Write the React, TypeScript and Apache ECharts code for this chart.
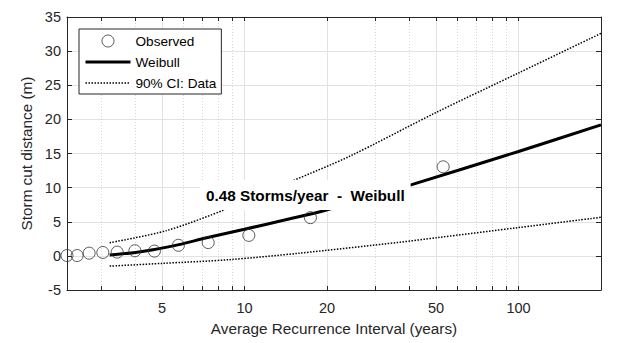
import React, { useEffect, useRef } from 'react';
import * as echarts from 'echarts';

// Observed storm cuts
const observedARI = [2.25, 2.45, 2.71, 3.04, 3.43, 3.98, 4.69, 5.74, 7.37, 10.37, 17.4, 53.1];
const observedCut = [0.05, 0.05, 0.4, 0.5, 0.55, 0.75, 0.7, 1.55, 1.95, 3.0, 5.6, 13.05];

// Weibull fit
const weibullARI = [3.22, 4.0, 4.64, 5.76, 7.27, 10, 14, 19.9, 40.5, 100, 200];
const weibullCut = [0.13, 0.5, 0.9, 1.65, 2.65, 3.9, 5.25, 6.72, 10.4, 15.3, 19.2];

// 90% confidence interval
const ciUpperARI = [3.22, 5.19, 8.59, 15.0, 24.2, 50, 100, 200];
const ciUpperCut = [1.93, 3.7, 6.87, 11.0, 14.6, 21.0, 26.8, 32.6];
const ciLowerARI = [3.22, 5, 8.84, 15.9, 36.9, 50, 100, 200];
const ciLowerCut = [-1.5, -1.1, -0.55, 0.4, 2.0, 2.65, 4.15, 5.65];

// Axes
const xMajorTicks = [5, 10, 20, 50, 100];
const xMinorTicks = [3, 4, 6, 7, 8, 9, 30, 40, 60, 70, 80, 90];
const xRange = [2.25, 200];
const yRange = [-5, 35];
const yStep = 5;

const annotation = '0.48 Storms/year  -  Weibull';

const lg = (v: number) => Math.log10(v);
const pairs = (xs: number[], ys: number[]) => xs.map((x, i) => [lg(x), ys[i]]);

const FONT = '"Liberation Sans", Arial, Helvetica, sans-serif';
const AX = '#262626';

export default function App() {
  const ref = useRef<HTMLDivElement>(null);
  useEffect(() => {
    if (!ref.current) return;
    const chart = echarts.init(ref.current, null, { renderer: 'svg' });
    const allTicks = [...xMinorTicks, ...xMajorTicks].sort((a, b) => a - b).map(lg);
    const xBase = {
      type: 'value' as const,
      min: lg(xRange[0]),
      max: lg(xRange[1]),
    };
    const ciStyle = { color: '#000', width: 1.5, type: 'dotted' as const };
    chart.setOption({
      animation: false,
      backgroundColor: '#fff',
      textStyle: { fontFamily: FONT },
      grid: { left: 67, right: 18, top: 17, bottom: 53, containLabel: false },
      legend: {
        orient: 'vertical',
        left: 79,
        top: 29,
        data: [
          { name: 'Observed', itemStyle: { borderWidth: 1, borderColor: '#333', color: 'transparent' } },
          { name: 'Weibull', lineStyle: { width: 3, color: '#000' } },
          { name: '90% CI: Data', lineStyle: { width: 1.5, color: '#000', type: 'dotted' } },
        ],
        itemWidth: 45,
        itemHeight: 12,
        itemGap: 7,
        padding: [5, 5, 4, 5],
        borderColor: AX,
        borderWidth: 1,
        borderRadius: 0,
        backgroundColor: '#fff',
        textStyle: { fontSize: 13.6, color: '#000', fontFamily: FONT },
      },
      xAxis: [
        {
          ...xBase,
          position: 'bottom',
          name: 'Average Recurrence Interval (years)',
          nameLocation: 'middle',
          nameGap: 31,
          nameTextStyle: { fontSize: 15.3, color: AX, fontFamily: FONT },
          axisLine: { show: true, onZero: false, lineStyle: { color: AX, width: 1 } },
          axisTick: { show: true, inside: true, length: 4, customValues: allTicks, lineStyle: { color: AX } },
          axisLabel: {
            customValues: xMajorTicks.map(lg),
            formatter: (v: number) => String(Math.round(Math.pow(10, v))),
            margin: 10,
            fontSize: 14.5,
            color: AX,
            fontFamily: FONT,
          },
          splitLine: { show: false },
        },
        {
          ...xBase,
          position: 'top',
          axisLine: { show: true, onZero: false, lineStyle: { color: AX, width: 1 } },
          axisTick: { show: true, inside: true, length: 4, customValues: allTicks, lineStyle: { color: AX } },
          axisLabel: { show: false },
          splitLine: { show: false },
        },
        {
          ...xBase,
          position: 'bottom',
          axisLine: { show: false },
          axisTick: { show: false, customValues: xMajorTicks.map(lg) },
          axisLabel: { show: false, customValues: xMajorTicks.map(lg) },
          splitLine: { show: true, lineStyle: { color: '#e2e2e2', width: 1 } },
        },
        {
          ...xBase,
          position: 'bottom',
          axisLine: { show: false },
          axisTick: { show: false, customValues: xMinorTicks.map(lg) },
          axisLabel: { show: false, customValues: xMinorTicks.map(lg) },
          splitLine: { show: true, lineStyle: { color: '#d6d6d6', width: 1, type: [1, 2] } },
        },
      ],
      yAxis: [
        {
          type: 'value',
          position: 'left',
          min: yRange[0],
          max: yRange[1],
          interval: yStep,
          name: 'Storm cut distance (m)',
          nameLocation: 'middle',
          nameGap: 30,
          nameTextStyle: { fontSize: 15.3, color: AX, fontFamily: FONT },
          axisLine: { show: true, onZero: false, lineStyle: { color: AX, width: 1 } },
          axisTick: { show: true, inside: true, length: 5, lineStyle: { color: AX } },
          axisLabel: { margin: 6, fontSize: 14.5, color: AX, fontFamily: FONT },
          splitLine: { show: true, lineStyle: { color: '#e2e2e2', width: 1 } },
        },
        {
          type: 'value',
          position: 'right',
          min: yRange[0],
          max: yRange[1],
          interval: yStep,
          axisLine: { show: true, onZero: false, lineStyle: { color: AX, width: 1 } },
          axisTick: { show: true, inside: true, length: 5, lineStyle: { color: AX } },
          axisLabel: { show: false },
          splitLine: { show: false },
        },
      ],
      graphic: [
        {
          type: 'text',
          x: 200,
          y: 195,
          z: 100,
          style: {
            text: annotation,
            font: `bold 15.3px ${FONT}`,
            lineHeight: 18,
            fill: '#000',
            backgroundColor: '#fff',
            padding: [6, 6, 6, 6],
            verticalAlign: 'middle',
            align: 'left',
          },
        },
      ],
      series: [
        {
          name: '90% CI: Data',
          type: 'line',
          data: pairs(ciLowerARI, ciLowerCut),
          symbol: 'none',
          smooth: 0.3,
          lineStyle: ciStyle,
          itemStyle: { color: 'transparent' },
          z: 3,
        },
        {
          name: '90% CI: Data',
          type: 'line',
          data: pairs(ciUpperARI, ciUpperCut),
          symbol: 'none',
          smooth: 0.3,
          lineStyle: ciStyle,
          itemStyle: { color: 'transparent' },
          z: 3,
        },
        {
          name: 'Weibull',
          type: 'line',
          data: pairs(weibullARI, weibullCut),
          symbol: 'none',
          smooth: 0.3,
          lineStyle: { color: '#000', width: 3 },
          itemStyle: { color: 'transparent' },
          z: 4,
        },
        {
          name: 'Observed',
          type: 'scatter',
          data: pairs(observedARI, observedCut),
          symbol: 'circle',
          symbolSize: 12,
          itemStyle: { color: 'transparent', borderColor: '#333', borderWidth: 1 },
          z: 5,
        },
      ],
    });
    return () => chart.dispose();
  }, []);
  return (
    <div
      ref={ref}
      style={{ position: 'fixed', left: 0, top: 0, width: 619, height: 343, background: '#fff' }}
    />
  );
}
